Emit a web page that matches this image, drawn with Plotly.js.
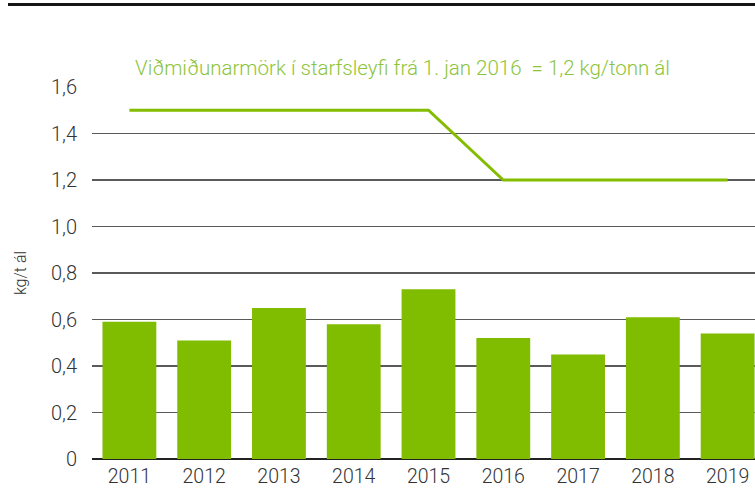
<!DOCTYPE html>
<html>
<head>
<meta charset="utf-8">
<script src="https://cdn.plot.ly/plotly-3.0.1.min.js"></script>
<style>html,body{margin:0;padding:0;background:#fff;}#chart{width:755px;height:490px;}</style>
</head>
<body>
<div id="chart"></div>
<script>
const years = ['2011','2012','2013','2014','2015','2016','2017','2018','2019'];
const emissions = [0.59, 0.51, 0.65, 0.58, 0.73, 0.52, 0.45, 0.61, 0.54];
const limitValues = [1.5, 1.5, 1.5, 1.5, 1.5, 1.2, 1.2, 1.2, 1.2];
const yTickVals = [0, 0.2, 0.4, 0.6, 0.8, 1.0, 1.2, 1.4, 1.6];
const yTickText = ['0', '0,2', '0,4', '0,6', '0,8', '1,0', '1,2', '1,4', '1,6'];
const yTitle = 'kg/t ál';
const limitLabel = 'Viðmiðunarmörk í starfsleyfi frá 1. jan 2016  = 1,2 kg/tonn ál';

const font = {family: 'Roboto, sans-serif', size: 20, color: '#333333', weight: 300};
const xFont = {family: 'Roboto, sans-serif', size: 19.5, color: '#333333', weight: 300};

const traces = [
  {type: 'bar', x: years, y: emissions, marker: {color: '#80bc00'}, hoverinfo: 'skip'},
  {type: 'scatter', mode: 'lines', x: years, y: limitValues, line: {color: '#84bd00', width: 3}, hoverinfo: 'skip'}
];

const layout = {
  width: 755, height: 490,
  margin: {l: 92, r: 0, t: 87, b: 31, pad: 0},
  paper_bgcolor: '#fff', plot_bgcolor: '#fff',
  showlegend: false,
  bargap: 0.28,
  font: font,
  xaxis: {
    type: 'category', range: [-0.5, 8.366], showgrid: false, zeroline: false,
    showline: false, ticks: '', ticklabelstandoff: 3, tickfont: xFont, fixedrange: true
  },
  yaxis: {
    range: [0, 1.6], tickvals: yTickVals, ticktext: yTickText,
    showgrid: true, gridcolor: '#5a5a5a', gridwidth: 1.2,
    zeroline: true, zerolinecolor: '#222', zerolinewidth: 1.2,
    showline: false, ticks: '', ticklabelstandoff: 14, tickfont: font,
    title: {text: yTitle, font: {family: 'Roboto, sans-serif', size: 16, color: '#333', weight: 300}, standoff: 20},
    fixedrange: true
  },
  annotations: [{
    xref: 'paper', yref: 'paper', x: (133 - 92) / 663, y: (459 - 68) / 372,
    xanchor: 'left', yanchor: 'middle', showarrow: false,
    text: limitLabel,
    font: {family: 'Roboto, sans-serif', size: 20.5, color: '#8cc43c', weight: 300}
  }],
  shapes: [{
    type: 'line', xref: 'paper', yref: 'paper',
    x0: (8 - 92) / 663, x1: 1.02, y0: (459 - 4.5) / 372, y1: (459 - 4.5) / 372,
    line: {color: '#151515', width: 3}
  }]
};

Plotly.newPlot('chart', traces, layout, {displayModeBar: false, staticPlot: true});
</script>
</body>
</html>
